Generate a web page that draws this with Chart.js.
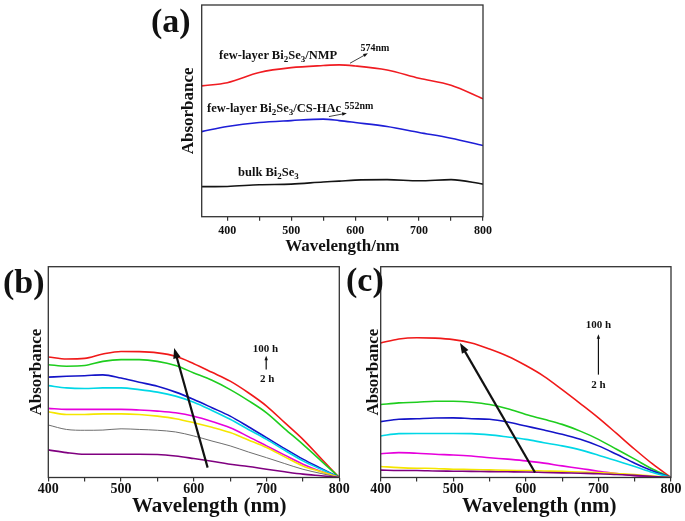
<!DOCTYPE html><html lang="en"><head><meta charset="utf-8">
<title>Bi2Se3 absorbance spectra</title>
<script src="https://cdn.jsdelivr.net/npm/chart.js@4/dist/chart.umd.min.js"></script>
<style>
body {
  margin: 0;
  background: #fff;
  font-family: "Liberation Serif", "Times New Roman", serif;
  font-weight: bold;
}
#wrap { position: relative; width: 685px; height: 521px; overflow: hidden; }
canvas, .t { position: absolute; }
.t { line-height: 1; white-space: nowrap; color: #111; }
.p { font-size: 34px; }
.c { font-size: 12.5px; }
.x { font-size: 21px; }
sub { font-size: 72%; vertical-align: -0.3em; line-height: 0; }
</style>
</head><body>
<div id=wrap>
<canvas id=chA width=345 height=262 style="left:150px;top:0"></canvas>
<canvas id=chB width=362 height=259 style="left:0;top:262px"></canvas>
<canvas id=chC width=343 height=259 style="left:342px;top:262px"></canvas>
<div class="t p" style="left:151px;top:4px">(a)</div>
<div class="t p" style="left:3px;top:265px">(b)</div>
<div class="t p" style="left:346px;top:263px">(c)</div>
<div class="t c" style="left:219px;top:49px">few-layer Bi<sub>2</sub>Se<sub>3</sub>/NMP</div>
<div class="t c" style="left:207px;top:102px">few-layer Bi<sub>2</sub>Se<sub>3</sub>/CS-HAc</div>
<div class="t c" style="left:238px;top:166px">bulk Bi<sub>2</sub>Se<sub>3</sub></div>
<div class="t x" style="left:132px;top:495px">Wavelength (nm)</div>
<div class="t x" style="left:462px;top:495px">Wavelength (nm)</div>
</div>

<script>
Chart.defaults.font.family = '"Liberation Serif", "Times New Roman", serif';
Chart.defaults.font.weight = 'bold';
Chart.defaults.color = '#111';

// (a) few-layer vs bulk
const wlA = [360, 400, 450, 500, 550, 575, 600, 650, 700, 750, 800];
const nmpA = [61.8, 63.3, 68.1, 70.4, 71.4, 71.7, 71.2, 69.3, 65.4, 62.1, 55.7];
const csA = [40.2, 42.6, 44.5, 45.4, 46.1, 45.4, 44.5, 42.6, 39.8, 37.1, 33.6];
const bulkA = [14.2, 14.3, 15.1, 15.4, 16.4, 16.8, 17.3, 17.5, 17.0, 17.5, 15.4];

// (b) and (c): 2 h -> 100 h
const wlBC = [400, 425, 450, 475, 500, 525, 550, 575, 600, 625, 650, 675, 700, 725, 750, 775, 800];
const bRed = [57.2, 56.2, 56.5, 58.6, 59.8, 59.7, 59.1, 57.5, 54.0, 49.9, 45.7, 40.2, 33.9, 26.0, 18.1, 9.0, 0];
const bGreen = [53.5, 52.8, 53.1, 55.1, 55.9, 55.9, 55.1, 53.1, 49.6, 46.1, 41.7, 36.5, 30.7, 23.1, 15.7, 7.9, 0];
const bBlue = [47.6, 48.0, 48.3, 48.7, 47.2, 45.2, 43.3, 40.5, 37.0, 33.1, 29.1, 24.1, 18.9, 13.7, 8.7, 4.3, 0];
const bCyan = [43.6, 42.5, 42.2, 42.5, 42.5, 41.7, 40.5, 38.6, 35.7, 31.8, 27.6, 22.8, 18.1, 12.9, 7.9, 3.9, 0];
const bMagenta = [32.8, 32.3, 32.3, 32.3, 32.3, 32.0, 31.5, 30.7, 29.1, 26.6, 23.6, 19.4, 15.0, 10.6, 6.3, 2.8, 0];
const bYellow = [31.2, 29.9, 29.9, 30.2, 30.2, 29.9, 29.1, 27.9, 26.0, 23.8, 21.3, 17.8, 14.2, 9.8, 5.5, 2.7, 0];
const bGray = [24.9, 22.8, 22.4, 22.5, 23.1, 22.8, 22.4, 21.6, 19.7, 17.3, 15.0, 12.1, 9.4, 6.6, 3.9, 1.9, 0];
const bPurple = [13.1, 11.8, 11.0, 11.0, 11.0, 11.0, 10.9, 10.2, 9.0, 7.7, 6.3, 5.2, 3.9, 2.7, 1.6, 0.8, 0];

const cRed = [63.8, 65.7, 66.3, 66.1, 65.4, 63.8, 60.9, 57.5, 53.1, 48.0, 41.7, 35.1, 28.3, 20.9, 13.4, 6.3, 0];
const cGreen = [34.6, 35.4, 35.7, 36.2, 36.2, 35.7, 34.6, 32.6, 29.9, 27.6, 25.2, 22.0, 18.1, 13.4, 8.7, 3.9, 0];
const cBlue = [26.5, 27.6, 27.9, 28.2, 28.3, 27.9, 27.6, 26.3, 24.4, 22.5, 20.5, 18.1, 15.0, 11.0, 6.8, 3.1, 0];
const cCyan = [19.7, 20.8, 20.9, 20.9, 20.9, 20.8, 20.2, 19.2, 18.1, 16.5, 15.0, 13.1, 10.6, 7.9, 5.2, 2.4, 0];
const cMagenta = [11.3, 11.8, 11.5, 11.0, 10.7, 10.2, 9.4, 8.7, 7.9, 6.8, 5.5, 4.3, 3.0, 1.9, 0.8, 0.3, 0];
const cYellow = [5.2, 4.7, 4.4, 4.3, 3.9, 3.8, 3.6, 3.4, 3.3, 3.1, 2.9, 2.6, 2.4, 1.9, 1.4, 0.7, 0];
const cPurple = [3.5, 3.3, 3.3, 3.1, 3.0, 2.9, 2.8, 2.7, 2.6, 2.4, 2.2, 2.0, 1.8, 1.4, 1.0, 0.5, 0];

const xTicks = [400, 450, 500, 550, 600, 650, 700, 750, 800];

// annotations in data units: [x1, y1, x2(tip), y2(tip), lineWidth, headSize]
const arrowsA = [[592, 72.5, 620, 77.2, 0.8, 5], [559, 47.3, 587, 48.9, 0.8, 5]];
const notesA = [['574nm', 631, 79.6], ['552nm', 606, 52.0]];
const arrowsB = [[619, 4.7, 573, 61.4, 2.2, 11], [699.5, 51.2, 699.5, 57.8, 1.2, 5]];
const notesB = [['100 h', 698.6, 60.8], ['2 h', 701, 46.5]];
const arrowsC = [[612.6, 2.4, 509.3, 63.8, 2.2, 11], [700, 48.8, 700, 68.0, 1.2, 5]];
const notesC = [['100 h', 699.9, 72.1], ['2 h', 700, 43.6]];

function arrow(ctx, x1, y1, x2, y2, w, head) {
  const ang = Math.atan2(y2 - y1, x2 - x1);
  ctx.strokeStyle = ctx.fillStyle = '#111';
  ctx.lineWidth = w;
  ctx.beginPath();
  ctx.moveTo(x1, y1);
  ctx.lineTo(x2 - Math.cos(ang) * head * 0.7, y2 - Math.sin(ang) * head * 0.7);
  ctx.stroke();
  ctx.beginPath();
  ctx.moveTo(x2, y2);
  ctx.lineTo(x2 - head * Math.cos(ang - 0.35), y2 - head * Math.sin(ang - 0.35));
  ctx.lineTo(x2 - head * Math.cos(ang + 0.35), y2 - head * Math.sin(ang + 0.35));
  ctx.closePath();
  ctx.fill();
}

const frame = {
  id: 'frame',
  afterDraw(chart, args, opts) {
    const { ctx, chartArea: a, scales: { x, y } } = chart;
    ctx.save();
    ctx.strokeStyle = '#333';
    ctx.lineWidth = 1.3;
    ctx.strokeRect(a.left, a.top, a.right - a.left, a.bottom - a.top);
    (opts.arrows || []).forEach(r => arrow(ctx,
      x.getPixelForValue(r[0]), y.getPixelForValue(r[1]),
      x.getPixelForValue(r[2]), y.getPixelForValue(r[3]), r[4], r[5]));
    ctx.font = 'bold ' + opts.noteSize + 'px "Liberation Serif", serif';
    ctx.fillStyle = '#111';
    ctx.textAlign = 'center';
    ctx.textBaseline = 'middle';
    (opts.notes || []).forEach(n => ctx.fillText(n[0], x.getPixelForValue(n[1]), y.getPixelForValue(n[2])));
    ctx.restore();
  }
};

function makeChart(id, o) {
  return new Chart(document.getElementById(id), {
    type: 'line',
    data: {
      datasets: o.series.map(s => ({
        data: o.wl.map((w, i) => ({ x: w, y: s[0][i] })),
        borderColor: s[1],
        borderWidth: s[2] || 1.6,
        pointRadius: 0,
        cubicInterpolationMode: 'monotone',
      })),
    },
    plugins: [frame],
    options: {
      responsive: false,
      animation: false,
      events: [],
      layout: { padding: o.pad },
      plugins: {
        legend: { display: false },
        tooltip: { enabled: false },
        frame: { arrows: o.arrows, notes: o.notes, noteSize: o.noteSize },
      },
      scales: {
        x: {
          type: 'linear',
          min: o.xmin,
          max: 800,
          afterBuildTicks: s => { s.ticks = xTicks.map(v => ({ value: v })); },
          afterFit: s => { s.height = o.xh; },
          grid: { drawOnChartArea: false, tickLength: 4, color: '#333', lineWidth: 1.2 },
          border: { display: false },
          ticks: {
            autoSkip: false, maxRotation: 0, padding: o.tickPad,
            font: { size: o.tickSize, weight: 'bold' },
            callback: v => v % 100 ? '' : v,
          },
          title: {
            display: !!o.xTitle, text: o.xTitle,
            font: { size: 17, weight: 'bold' },
            padding: { top: 0, bottom: 5 },
          },
        },
        y: {
          min: 0,
          max: 100,
          afterFit: s => { s.width = o.yw; },
          grid: { display: false },
          border: { display: false },
          ticks: { display: false },
          title: {
            display: true, text: 'Absorbance',
            font: { size: 17, weight: 'bold' },
            padding: { top: o.yTitlePad, bottom: 0 },
          },
        },
      },
    },
  });
}

makeChart('chA', {
  wl: wlA, xmin: 360,
  series: [[nmpA, 'rgb(240,28,34)'], [csA, 'rgb(30,30,215)'], [bulkA, 'rgb(20,20,20)']],
  pad: { left: 0, top: 5, right: 5.7, bottom: 0 },
  yw: 51.7, xh: 45.3, tickSize: 12, tickPad: 3,
  xTitle: 'Wavelength/nm',
  yTitlePad: 28, arrows: arrowsA, notes: notesA, noteSize: 10,
});

makeChart('chB', {
  wl: wlBC, xmin: 400,
  series: [[bPurple, 'rgb(128,0,128)'], [bGray, 'rgb(110,110,110)', 1], [bYellow, 'rgb(245,230,0)'],
    [bMagenta, 'rgb(230,0,220)'], [bCyan, 'rgb(0,215,230)'], [bBlue, 'rgb(20,20,200)'],
    [bGreen, 'rgb(30,205,30)'], [bRed, 'rgb(240,25,25)']],
  pad: { left: 0, top: 4.7, right: 22.7, bottom: 0 },
  yw: 48.3, xh: 43.5, tickSize: 14, tickPad: -1,
  yTitlePad: 26, arrows: arrowsB, notes: notesB, noteSize: 11,
});

makeChart('chC', {
  wl: wlBC, xmin: 400,
  series: [[cPurple, 'rgb(128,0,128)'], [cYellow, 'rgb(245,230,0)'],
    [cMagenta, 'rgb(230,0,220)'], [cCyan, 'rgb(0,215,230)'], [cBlue, 'rgb(20,20,200)'],
    [cGreen, 'rgb(30,205,30)'], [cRed, 'rgb(240,25,25)']],
  pad: { left: 0, top: 4.7, right: 14, bottom: 0 },
  yw: 38.7, xh: 43.5, tickSize: 14, tickPad: -1,
  yTitlePad: 21, arrows: arrowsC, notes: notesC, noteSize: 11,
});
</script>
</body></html>
